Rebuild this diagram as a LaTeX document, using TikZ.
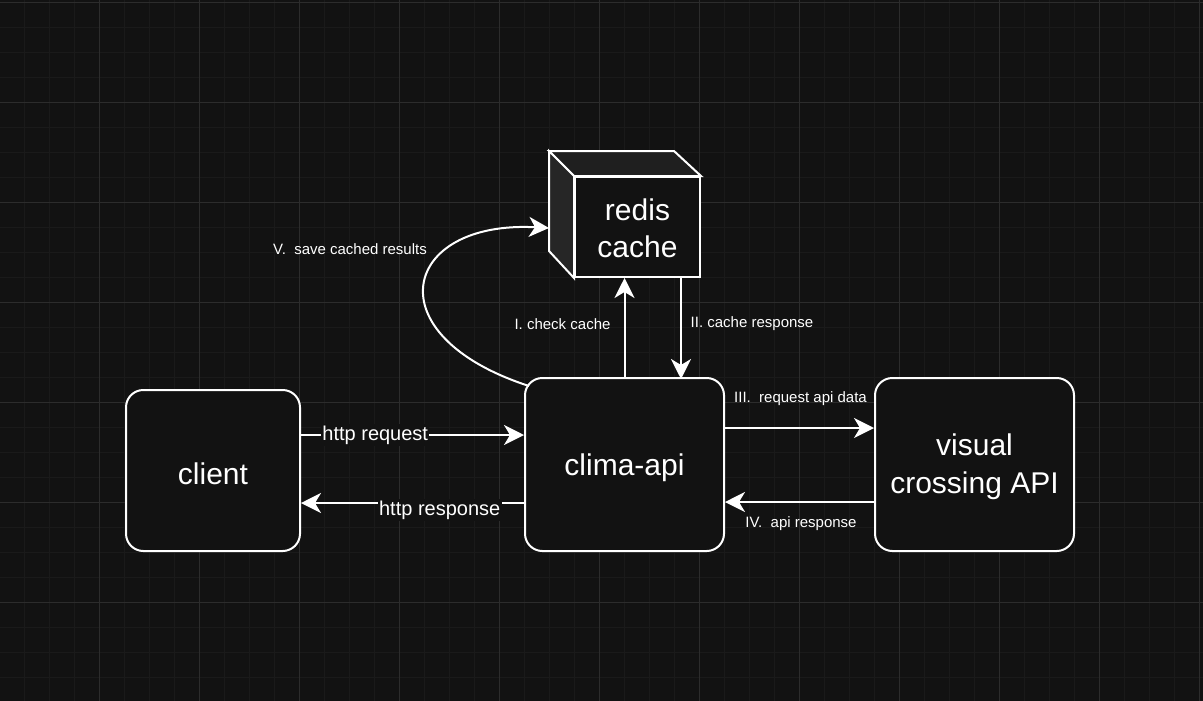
\documentclass[tikz,border=0pt]{standalone}
\usepackage{fontspec}
\setmainfont{Liberation Sans}
\usetikzlibrary{arrows.meta,calc}
\definecolor{canvas}{HTML}{121212}
\definecolor{gridmajor}{HTML}{2C2C2C}
\definecolor{gridminor}{HTML}{1A1A1A}
\definecolor{cubetop}{HTML}{1F1F1F}
\definecolor{cubeside}{HTML}{262626}
\newcommand{\lowered}[2]{\raisebox{-#1}[\height][\depth]{#2}}
\begin{document}
\begin{tikzpicture}
	[x=0.75pt,y=-0.75pt,
	 box/.style={draw=white,line width=1.5pt,fill=canvas,rounded corners=13pt,text=white,font=\fontsize{22.5}{28}\selectfont,align=center,inner sep=0pt},
	 face/.style={draw=white,line width=1.5pt},
	 flow/.style={draw=white,line width=1.5pt,-{Stealth[length=15pt,width=15pt,inset=4.5pt]}},
	 lbl/.style={text=white,font=\fontsize{11.25}{13}\selectfont,inner sep=1pt},
	 hlbl/.style={text=white,fill=canvas,font=\fontsize{15}{18}\selectfont,inner sep=1pt}]
    % canvas and grid
    \useasboundingbox (0,0) rectangle (1203,700);
    \fill[canvas] (-5,-5) rectangle (1208,705);
    \foreach \gx in {24,49,...,1199} \draw[gridminor,line width=0.75pt] (\gx,-5) -- (\gx,705);
    \foreach \gy in {2,27,...,700} \draw[gridminor,line width=0.75pt] (-5,\gy) -- (1208,\gy);
    \foreach \gx in {99,199,...,1199} \draw[gridmajor,line width=0.75pt] (\gx,-5) -- (\gx,705);
    \foreach \gy in {2,102,...,700} \draw[gridmajor,line width=0.75pt] (-5,\gy) -- (1208,\gy);
    % nodes
    \node[box,minimum width=130.5pt,minimum height=120.75pt] (client) at (213,470.5) {\lowered{2.1pt}{client}};
    \node[box,minimum width=149.25pt,minimum height=129.75pt] (api) at (624.5,464.5) {\lowered{2.8pt}{clima-api}};
    \node[box,minimum width=149.25pt,minimum height=129.75pt] (vc) at (974.5,464.5) {\lowered{1.6pt}{visual}\\\lowered{1.6pt}{crossing API}};
    \node[box,rounded corners=0pt,minimum width=93.75pt,minimum height=75pt] (redis) at (637.5,227) {\lowered{1.1pt}{redis}\\\lowered{1.1pt}{cache}};
    \draw[face,fill=cubetop] (redis.north west) -- ++(-25,-25) -- ++(125,0) -- (redis.north east) -- cycle;
    \draw[face,fill=cubeside] (redis.north west) -- ++(-25,-25) -- ++(0,100) -- (redis.south west) -- cycle;
    % connectors
    \draw[flow] ($(client.east)+(0,-35.5)$) -- node[hlbl,pos=0.333] (req) {http request} (api.west |- 0,435);
    \draw[flow] ($(api.west)+(0,38.5)$) -- node[hlbl,pos=0.378,yshift=-5.25pt] (resp) {http response} (client.east |- 0,503);
    \draw[flow] (api.north) -- (api.north |- redis.south);
    \draw[flow] ($(redis.south)+(43.5,0)$) -- ($(redis.south -| api.north)+(56.5,101)$);
    \draw[flow] ($(api.east)+(0,-36.5)$) -- (vc.west |- 0,428);
    \draw[flow] ($(vc.west)+(0,37.5)$) -- (api.east |- 0,502);
    \draw[flow] ($(api.north west)+(5,9)$) .. controls (372,335) and (402,220) .. ($(redis.west)+(-25,1)$);
    % labels
    \node[lbl] (check) at (562.5,324) {I. check cache};
    \node[lbl] (cached) at (752,324) {II. cache response};
    \node[lbl] (reqdata) at (800.5,399) {III.\ \ request api data};
    \node[lbl] (apiresp) at (801,524) {IV.\ \ api response};
    \node[lbl] (save) at (350,249) {V.\ \ save cached results};
\end{tikzpicture}
\end{document}
